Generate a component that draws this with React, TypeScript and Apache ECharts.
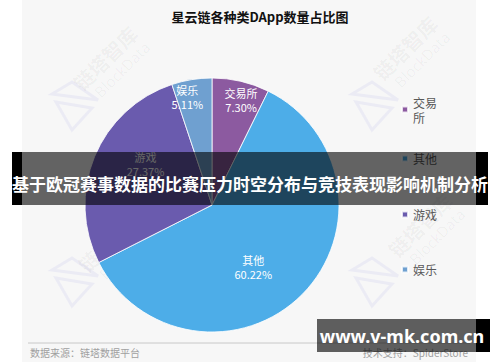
import React, { useEffect, useRef } from "react";
import * as echarts from "echarts";

const categories = ["交易所", "其他", "游戏", "娱乐"];
const shares = [7.3, 60.22, 27.37, 5.11];
const colors = ["#8C5AA0", "#4DADE8", "#6A5BAE", "#6FA0D0"];
const titleText = "星云链各种类DApp数量占比图";
const bannerText = "基于欧冠赛事数据的比赛压力时空分布与竞技表现影响机制分析";
const sourceText = "数据来源：链塔数据平台";
const supportText = "技术支持：SpiderStore";
const siteText = "www.v-mk.com.cn";
const wmMain = "链塔智库";
const wmSub = "BlockData";

const labelShift = [
  [14, -40],
  [-6, 15],
  [-5, -16],
  [-14, -42],
];
const legendTops = [87, 151, 207, 262];

function watermark(x: number, y: number) {
  return {
    type: "group",
    x,
    y,
    rotation: Math.PI / 4,
    z: 1,
    silent: true,
    children: [
      {
        type: "text",
        x: 0,
        y: 0,
        style: {
          text: wmMain,
          fill: "rgba(0,0,0,0.045)",
          font: "bold 20px 'Noto Sans CJK SC', sans-serif",
          align: "center",
          verticalAlign: "middle",
        },
      },
      {
        type: "text",
        x: 4,
        y: 20,
        style: {
          text: wmSub,
          fill: "rgba(0,0,0,0.04)",
          font: "15px 'Noto Sans', sans-serif",
          align: "center",
          verticalAlign: "middle",
        },
      },
    ],
  };
}

function logo(x: number, y: number) {
  const st = { stroke: "rgba(120,120,220,0.09)", lineWidth: 3, fill: "none" };
  return {
    type: "group",
    x,
    y,
    z: 1,
    silent: true,
    children: [
      { type: "polygon", shape: { points: [[0, 12], [20, 0], [46, 18]] }, style: st },
      { type: "polygon", shape: { points: [[4, 20], [20, 48], [40, 26]] }, style: st },
    ],
  };
}

export default function App() {
  const ref = useRef<HTMLDivElement>(null);
  useEffect(() => {
    document.body.style.margin = "0";
    const chart = echarts.init(ref.current!, null, { renderer: "svg" });
    const legends = categories.map((name, i) => ({
      data: [name],
      left: 401,
      top: legendTops[i],
      orient: "vertical",
      icon: "rect",
      itemWidth: 6,
      itemHeight: 6,
      itemGap: 0,
      padding: 0,
      selectedMode: false,
      z: 4,
      textStyle: {
        fontSize: 12,
        color: "#595959",
        fontFamily: "'Noto Sans CJK SC', sans-serif",
        lineHeight: 15,
        ...(i === 0 ? { width: 26, overflow: "break", padding: [15, 0, 0, 0] } : {}),
      },
    }));
    chart.setOption({
      animation: false,
      backgroundColor: "#ffffff",
      title: {
        text: titleText,
        left: 255,
        top: 5,
        textAlign: "center",
        textStyle: {
          fontSize: 13,
          fontWeight: "bold",
          color: "#111",
          fontFamily: "'Noto Sans CJK SC', sans-serif",
        },
      },
      legend: legends,
      series: [
        {
          type: "pie",
          center: [212, 205],
          radius: [0, 127],
          startAngle: 90,
          clockwise: true,
          z: 2,
          data: categories.map((name, i) => ({
            name,
            value: shares[i],
            itemStyle: { color: colors[i] },
          })),
          itemStyle: { borderColor: "rgba(255,255,255,0.8)", borderWidth: 1 },
          label: {
            show: true,
            position: "inside",
            color: "#ffffff",
            fontSize: 11,
            lineHeight: 14,
            fontFamily: "'Noto Sans CJK SC', sans-serif",
            formatter: (p: any) => `${p.name}\n${Number(p.value).toFixed(2)}%`,
          },
          labelLayout: (p: any) => ({
            dx: labelShift[p.dataIndex][0],
            dy: labelShift[p.dataIndex][1],
          }),
          labelLine: { show: false },
          emphasis: { disabled: true },
        },
      ],
      graphic: [
        {
          type: "rect",
          z: 0,
          silent: true,
          shape: { x: 22, y: 0, width: 454, height: 362 },
          style: { fill: "#f7f7f7" },
        },
        watermark(105, 58),
        watermark(405, 48),
        watermark(110, 240),
        watermark(420, 225),
        logo(52, 82),
        logo(352, 82),
        logo(52, 258),
        logo(352, 258),
        {
          type: "line",
          z: 3,
          silent: true,
          shape: { x1: 28, y1: 343, x2: 470, y2: 343 },
          style: { stroke: "#c8c8c8", lineWidth: 1 },
        },
        {
          type: "text",
          z: 3,
          silent: true,
          x: 30,
          y: 352,
          style: {
            text: sourceText,
            fill: "#a0a0a0",
            font: "10px 'Noto Sans CJK SC', sans-serif",
            verticalAlign: "middle",
          },
        },
        {
          type: "text",
          z: 3,
          silent: true,
          x: 468,
          y: 352,
          style: {
            text: supportText,
            fill: "#a0a0a0",
            font: "10px 'Noto Sans CJK SC', sans-serif",
            align: "right",
            verticalAlign: "middle",
          },
        },
        {
          type: "rect",
          z: 100,
          silent: true,
          shape: { x: 12, y: 152, width: 10, height: 53 },
          style: { fill: "#000" },
        },
        {
          type: "rect",
          z: 100,
          silent: true,
          shape: { x: 476, y: 152, width: 12, height: 53 },
          style: { fill: "#000" },
        },
        {
          type: "rect",
          z: 100,
          silent: true,
          shape: { x: 22, y: 152, width: 454, height: 53 },
          style: { fill: "rgba(0,0,0,0.6)" },
        },
        {
          type: "text",
          z: 101,
          silent: true,
          x: 250,
          y: 183,
          style: {
            text: bannerText,
            fill: "#ffffff",
            font: "bold 17px 'Noto Sans CJK SC', sans-serif",
            align: "center",
            verticalAlign: "middle",
          },
        },
        {
          type: "rect",
          z: 100,
          silent: true,
          shape: { x: 317, y: 319, width: 159, height: 33 },
          style: { fill: "rgba(0,0,0,0.62)" },
        },
        {
          type: "rect",
          z: 100,
          silent: true,
          shape: { x: 476, y: 319, width: 14, height: 33 },
          style: { fill: "#000" },
        },
        {
          type: "text",
          z: 101,
          silent: true,
          x: 402,
          y: 336,
          style: {
            text: siteText,
            fill: "#ffffff",
            font: "bold 18px 'Noto Sans', sans-serif",
            align: "center",
            verticalAlign: "middle",
          },
        },
      ],
    });
    return () => chart.dispose();
  }, []);
  return <div ref={ref} style={{ width: 500, height: 362 }} />;
}
